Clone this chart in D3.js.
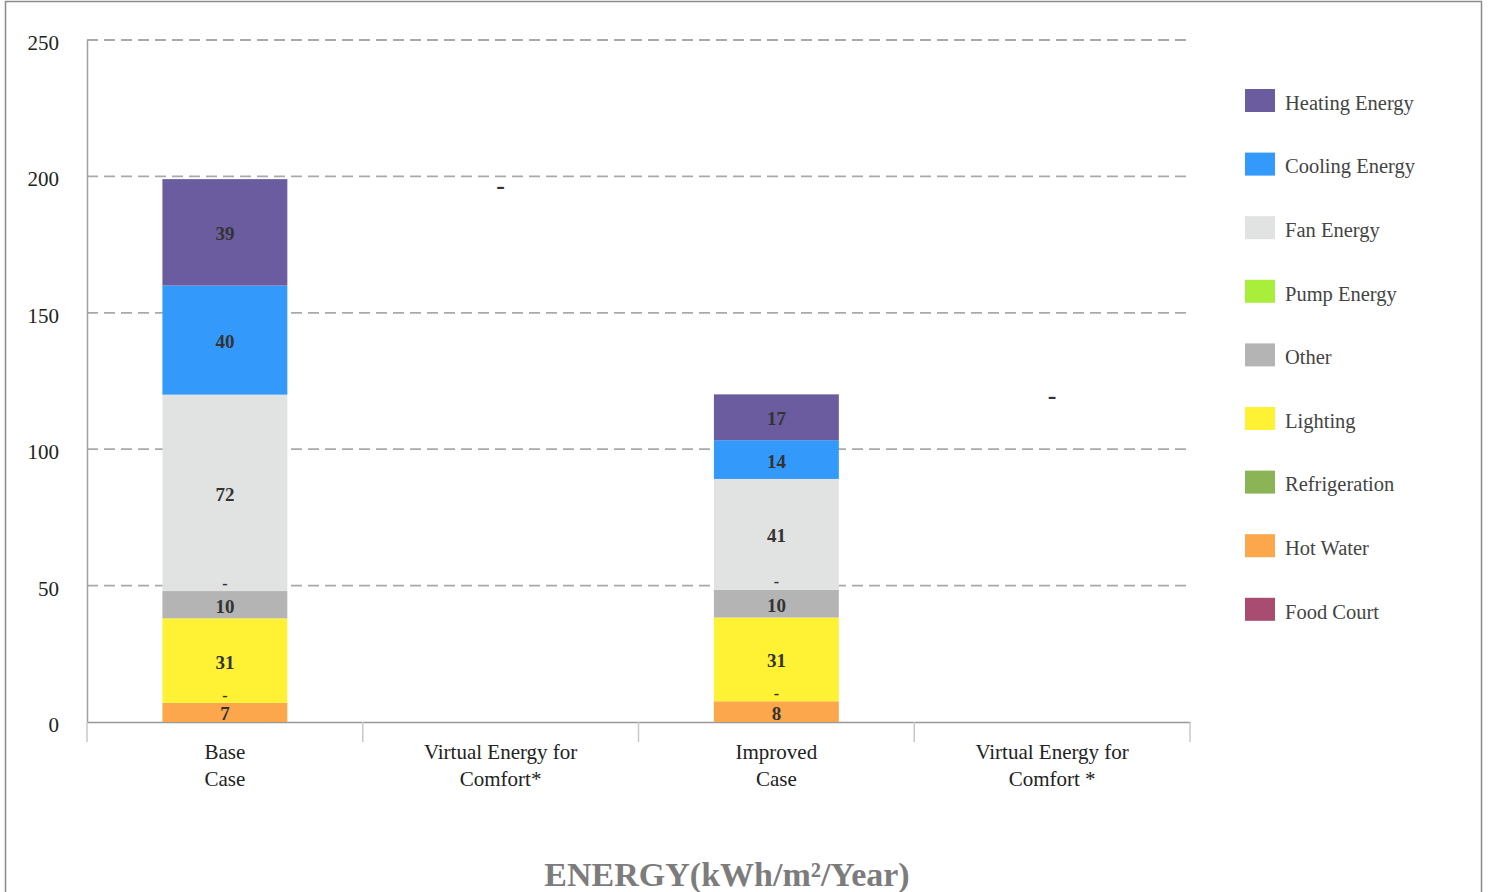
<!DOCTYPE html>
<html><head><meta charset="utf-8">
<script src="https://cdn.jsdelivr.net/npm/d3@7"></script>
<style>body{margin:0;background:#fff}svg{display:block}</style>
</head><body>
<svg id="c" width="1488" height="892"></svg>
<script>
const categories = [["Base","Case"],["Virtual Energy for","Comfort*"],["Improved","Case"],["Virtual Energy for","Comfort *"]];
const categoryKeys = ["base","virtual1","improved","virtual2"];
const seriesNames = ["Heating Energy","Cooling Energy","Fan Energy","Pump Energy","Other","Lighting","Refrigeration","Hot Water","Food Court"];
const seriesColors = ["#6a5c9e","#3399fb","#e1e2e2","#a8ee3a","#b4b4b4","#fff235","#8bb456","#fca74c","#a94c72"];
// values per series for [base, virtual1, improved, virtual2]; null = no bar
const heating =       [39, null, 16.8, null];
const cooling =       [40, null, 14.2, null];
const fan =           [72, null, 40.6, null];
const pump =          [0,  null, 0,    null];
const other =         [10, null, 10.2, null];
const lighting =      [31, null, 30.7, null];
const refrigeration = [0,  null, 0,    null];
const hotWater =      [7,  null, 7.6,  null];
const foodCourt =     [0,  null, 0,    null];
const virtualMarks = [{cat:"virtual1", value:197}, {cat:"virtual2", value:120}];
const yTicks = [0,50,100,150,200,250];

const seriesValues = [heating,cooling,fan,pump,other,lighting,refrigeration,hotWater,foodCourt];

const svg = d3.select("#c");
const serif = "'Liberation Serif','DejaVu Serif',serif";

// frame
svg.append("rect").attr("x",5.5).attr("y",1.5).attr("width",1476).attr("height",900)
  .attr("fill","none").attr("stroke","#8a8a8a").attr("stroke-width",1.5);

const x0 = 87, x1 = 1190, yTop = 40, yBot = 722;
const x = d3.scaleBand().domain(categoryKeys).range([x0,x1]).padding(0);
const y = d3.scaleLinear().domain([0,250]).range([yBot,yTop]);
const barW = x.bandwidth()*0.453;

// gridlines
svg.append("g").selectAll("line").data(yTicks.filter(t=>t>0)).join("line")
  .attr("x1",x0).attr("x2",x1).attr("y1",d=>y(d)).attr("y2",d=>y(d))
  .attr("stroke","#a9a9a9").attr("stroke-width",1.8).attr("stroke-dasharray","11,6");

// y axis
const yAxis = svg.append("g").attr("transform",`translate(${x0},0)`)
  .call(d3.axisLeft(y).tickValues(yTicks).tickSize(0).tickPadding(28));
yAxis.select(".domain").attr("stroke","#a0a0a0").attr("stroke-width",1.5);
yAxis.selectAll("text").attr("font-family",serif).attr("font-size",21).attr("fill","#222").attr("dy","0.45em");

// x axis
const xAxis = svg.append("g").attr("transform",`translate(0,${yBot})`)
  .call(d3.axisBottom(x).tickSize(0).tickFormat(""));
xAxis.select(".domain").attr("stroke","#999").attr("stroke-width",1.5);
svg.append("g").selectAll("line").data(d3.range(categoryKeys.length+1)).join("line")
  .attr("x1",i=>x0+i*x.bandwidth()).attr("x2",i=>x0+i*x.bandwidth())
  .attr("y1",yBot).attr("y2",yBot+20).attr("stroke","#c8c8c8").attr("stroke-width",1.5);

const xl = svg.append("g").selectAll("text").data(categoryKeys).join("text")
  .attr("x",d=>x(d)+x.bandwidth()/2).attr("y",759)
  .attr("text-anchor","middle").attr("font-family",serif).attr("font-size",21).attr("fill","#222");
xl.each(function(d,i){
  const t=d3.select(this);
  categories[i].forEach((ln,j)=>t.append("tspan").attr("x",x(d)+x.bandwidth()/2).attr("dy",j?27:0).text(ln));
});

// stacked data: bottom to top = reversed legend order
const stackOrder = seriesNames.map((n,i)=>i).reverse();
const segs = [];
categoryKeys.forEach((k,ci)=>{
  let acc=0;
  stackOrder.forEach(si=>{
    const v = seriesValues[si][ci];
    if(v===null) return;
    segs.push({cat:k, s:si, y0:acc, y1:acc+v, v:v});
    acc+=v;
  });
});

svg.append("g").selectAll("rect").data(segs.filter(d=>d.v>0)).join("rect")
  .attr("x",d=>x(d.cat)+x.bandwidth()/2-barW/2).attr("width",barW)
  .attr("y",d=>y(d.y1)).attr("height",d=>y(d.y0)-y(d.y1))
  .attr("fill",d=>seriesColors[d.s]);

// labels
const labelSegs = segs.filter(d=>!(d.v===0 && d.y0===0));
svg.append("g").selectAll("text").data(labelSegs).join("text")
  .attr("x",d=>x(d.cat)+x.bandwidth()/2)
  .attr("y",d=>d.v===0 ? y(d.y0)-4 : y((d.y0+d.y1)/2))
  .attr("dy",d=>d.v===0?"0.1em":"0.42em").attr("text-anchor","middle")
  .attr("font-family",serif).attr("font-weight","bold").attr("font-size",d=>d.v===0?16:19)
  .attr("fill","#333")
  .text(d=>d.v===0?"-":d3.format("d")(Math.round(d.v)));

svg.append("g").selectAll("text").data(virtualMarks).join("text")
  .attr("x",d=>x(d.cat)+x.bandwidth()/2).attr("y",d=>y(d.value))
  .attr("dy","0.35em").attr("text-anchor","middle")
  .attr("font-family",serif).attr("font-weight","bold").attr("font-size",26).attr("fill","#333")
  .text("-");

// legend
const lg = svg.append("g").selectAll("g").data(seriesNames).join("g")
  .attr("transform",(d,i)=>`translate(1245,${89+i*63.6})`);
lg.append("rect").attr("width",30).attr("height",23).attr("fill",(d,i)=>seriesColors[i]);
lg.append("text").attr("x",40).attr("y",13).attr("dy","0.38em")
  .attr("font-family",serif).attr("font-size",20.5).attr("fill","#444").text(d=>d);

// title
svg.append("text").attr("x",727).attr("y",886).attr("text-anchor","middle")
  .attr("font-family",serif).attr("font-weight","bold").attr("font-size",34).attr("fill","#7c7c7c")
  .text("ENERGY(kWh/m²/Year)");
</script>
</body></html>
